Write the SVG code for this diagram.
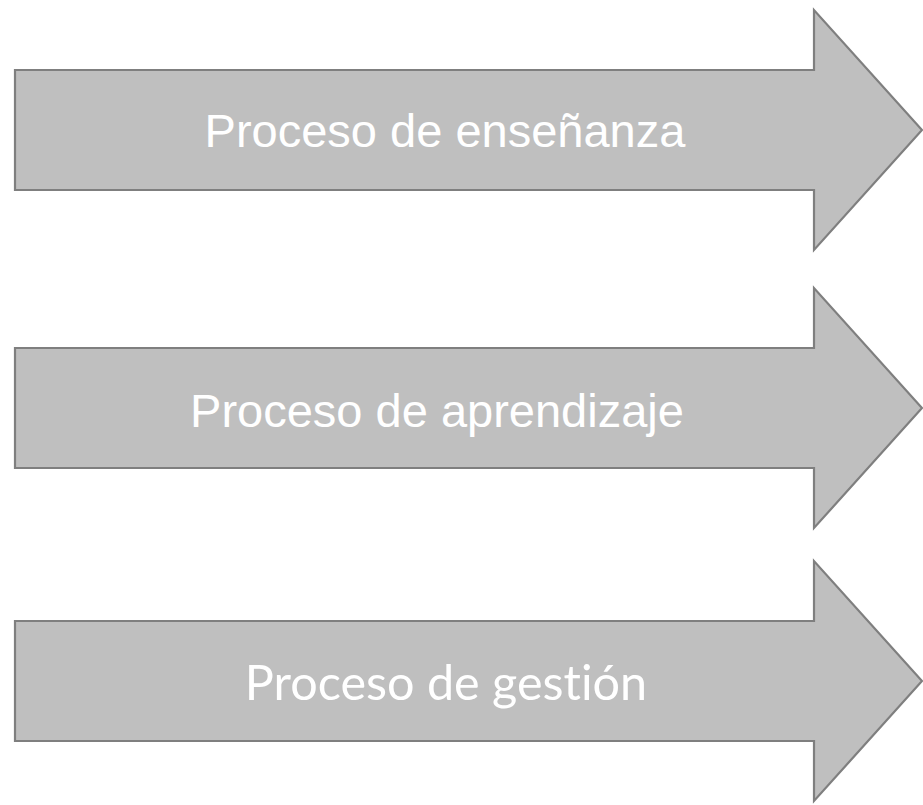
<svg xmlns="http://www.w3.org/2000/svg" width="923" height="805" viewBox="0 0 923 805">
  <style>
    .arrow { fill: #bfbfbf; stroke: #7f7f7f; stroke-width: 2.2; stroke-linejoin: miter; }
    .lbl { fill: #ffffff; font-size: 47px; text-anchor: middle; font-variant-ligatures: none; }
    .arial { font-family: "Liberation Sans", Arial, sans-serif; }
    .calibri { font-family: Lato, "Open Sans", sans-serif; font-size: 48.5px; }
  </style>
  <g id="node-ensenanza">
    <polygon class="arrow" points="15,70 814,70 814,10 922,130 814,250 814,190 15,190"/>
    <text class="lbl arial" x="445" y="147">Proceso de enseñanza</text>
  </g>
  <g id="node-aprendizaje">
    <polygon class="arrow" points="15,348 814,348 814,288 922,408 814,528 814,468 15,468"/>
    <text class="lbl arial" x="437" y="427">Proceso de aprendizaje</text>
  </g>
  <g id="node-gestion">
    <polygon class="arrow" points="15,621 814,621 814,561 922,681 814,801 814,741 15,741"/>
    <text class="lbl calibri" x="446" y="700">Proceso de gestión</text>
  </g>
  <g id="connectors"></g>
</svg>
